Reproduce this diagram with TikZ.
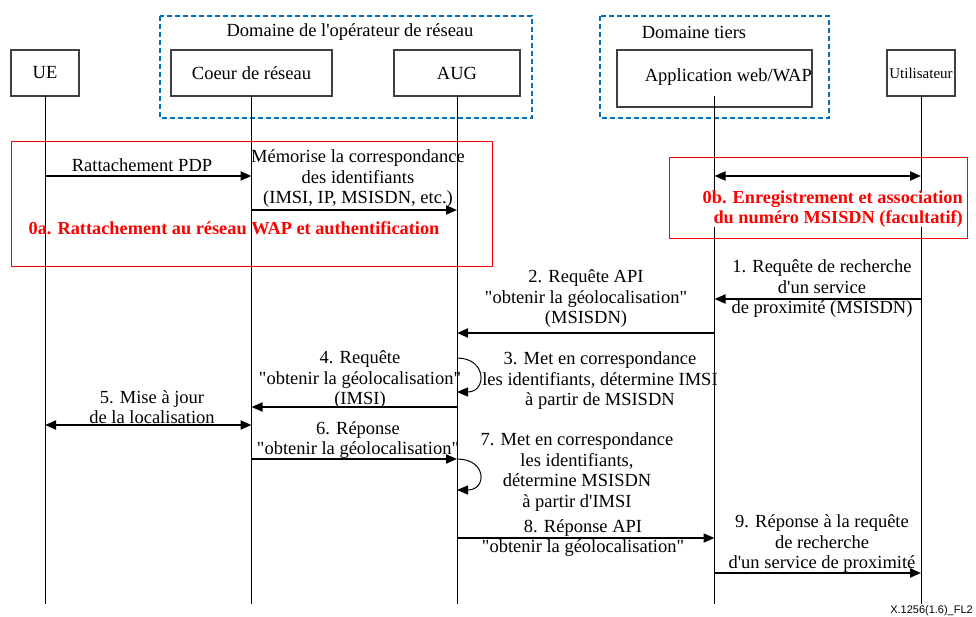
\documentclass[tikz,border=0pt]{standalone}
\usepackage{fontspec}
\setmainfont{Liberation Serif}[Ligatures=TeXOff]
\newfontfamily\tagfont{Liberation Sans}
\usetikzlibrary{arrows.meta}
\definecolor{domblue}{RGB}{0,112,192}
\tikzset{
  entity/.style={draw=black!75, line width=1.4pt, fill=white, minimum height=46pt,
    inner sep=0pt, font=\fontsize{18.5}{20.5}\selectfont},
  domainbox/.style={draw=domblue, line width=1.8pt, dash pattern=on 5pt off 3pt},
  phasebox/.style={draw=red, line width=1pt},
  life/.style={line width=1pt},
  msg/.style={-{Triangle[length=11pt,width=9pt]}, line width=2pt},
  dmsg/.style={{Triangle[length=11pt,width=9pt]}-{Triangle[length=11pt,width=9pt]}, line width=2pt},
  selfmsg/.style={-{Triangle[length=11pt,width=9pt]}, line width=1pt},
  txt/.style={align=center, inner sep=0pt, font=\fontsize{18.5}{20.5}\selectfont},
  redtxt/.style={txt, text=red, font=\bfseries\fontsize{18.3}{20}\selectfont}
}

\begin{document}
\begin{tikzpicture}[x=1pt, y=-1pt]
\useasboundingbox (0,0) rectangle (976,617);

% domains
\draw[domainbox] (160,16) rectangle (532,118);
\draw[domainbox] (600,16) rectangle (829,118);
\node[txt] (opname) at (350,32) {Domaine de l'opérateur de réseau};
\node[txt] (tiersname) at (694,32) {Domaine tiers};

% entities
\node[entity, minimum width=68pt] (ue) at (45,73) {UE};
\node[entity, minimum width=161pt] (core) at (251.5,73) {Coeur de réseau};
\node[entity, minimum width=126pt] (aug) at (457,73) {AUG};
\node[entity, minimum width=195pt, minimum height=57pt] (app) at (714.5,78.5) {};
\node[txt, anchor=east] (apptxt) at (812,77) {Application web/WAP};
\node[entity, minimum width=68pt, font=\fontsize{15}{17}\selectfont] (user) at (921,73) {Utilisateur};

\foreach \n in {ue,core,aug,app,user}
  \draw[life] (\n |- 0,96) -- (\n |- 0,604);

% phases 0a / 0b
\draw[phasebox] (11,142) rectangle (492,267);
\draw[phasebox] (669,158) rectangle (967,239);
\node[redtxt] (ph0a) at (234,228) {0a. Rattachement au réseau WAP et authentification};
\node[redtxt, align=right, fill=white, anchor=east] (ph0b) at (963,209)
  {0b. Enregistrement et association\\du numéro MSISDN (facultatif)};

% messages
\foreach \a/\b/\y in {ue/core/176, core/aug/210, user/app/299, app/aug/333,
    aug/core/407, core/aug/459, aug/app/538, app/user/573}
  \draw[msg] (\a |- 0,\y) -- (\b |- 0,\y);
\foreach \a/\b/\y in {app/user/176, ue/core/425}
  \draw[dmsg] (\a |- 0,\y) -- (\b |- 0,\y);
\foreach \ya/\yb in {358/392, 459/490}
  \draw[selfmsg] (aug |- 0,\ya) .. controls +(30,0) and +(30,0) .. (aug |- 0,\yb);

\node[txt] (m0) at (142,165) {Rattachement PDP};
\node[txt] (mmem) at (358,179) {Mémorise la correspondance\\des identifiants\\(IMSI, IP, MSISDN, etc.)};
\node[txt] (m1) at (822,289) {1. Requête de recherche\\d'un service\\de proximité (MSISDN)};
\node[txt] (m2) at (586,299) {2. Requête API\\"obtenir la géolocalisation"\\(MSISDN)};
\node[txt] (m3) at (600,381) {3. Met en correspondance\\les identifiants, détermine IMSI\\à partir de MSISDN};
\node[txt] (m4) at (360,380) {4. Requête\\"obtenir la géolocalisation"\\(IMSI)};
\node[txt] (m5) at (152,407) {5. Mise à jour\\de la localisation};
\node[txt] (m6) at (358,440) {6. Réponse\\"obtenir la géolocalisation"};
\node[txt] (m7) at (577,472) {7. Met en correspondance\\les identifiants,\\détermine MSISDN\\à partir d'IMSI};
\node[txt] (m8) at (583,538) {8. Réponse API\\"obtenir la géolocalisation"};
\node[txt] (m9) at (822,544) {9. Réponse à la requête\\de recherche\\d'un service de proximité};

\node[anchor=base east, inner sep=0pt, font=\tagfont\fontsize{11}{13}\selectfont] (figid) at (973,613.5) {X.1256(1.6)\_FL2};
\end{tikzpicture}
\end{document}
